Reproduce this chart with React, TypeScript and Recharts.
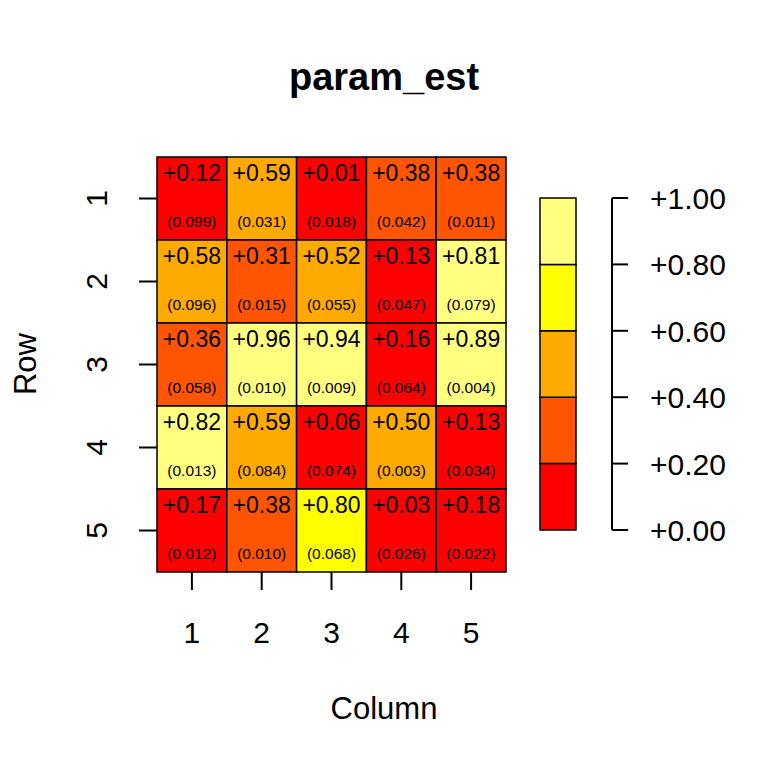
import { ScatterChart, Scatter, XAxis, YAxis, ReferenceArea } from "recharts";

const ROWS = [1, 2, 3, 4, 5];
const COLS = [1, 2, 3, 4, 5];

// estimates per row (row 1 at top); 0.798 prints as +0.80 but sits in the 0.6-0.8 band
const ESTIMATES = [
  [0.12, 0.59, 0.01, 0.38, 0.38],
  [0.58, 0.31, 0.52, 0.13, 0.81],
  [0.36, 0.96, 0.94, 0.16, 0.89],
  [0.82, 0.59, 0.06, 0.5, 0.13],
  [0.17, 0.38, 0.798, 0.03, 0.18],
];

const STD_ERRORS = [
  [0.099, 0.031, 0.018, 0.042, 0.011],
  [0.096, 0.015, 0.055, 0.047, 0.079],
  [0.058, 0.01, 0.009, 0.064, 0.004],
  [0.013, 0.084, 0.074, 0.003, 0.034],
  [0.012, 0.01, 0.068, 0.026, 0.022],
];

const BREAKS = [0, 0.2, 0.4, 0.6, 0.8, 1.0];
const HEAT_COLORS = ["#FF0000", "#FF5500", "#FFAA00", "#FFFF00", "#FFFF80"];

const FONT = '"Liberation Sans", Arial, Helvetica, sans-serif';

const cells = ROWS.flatMap((row, i) =>
  COLS.map((col, j) => ({
    row,
    col,
    est: ESTIMATES[i][j],
    se: STD_ERRORS[i][j],
  }))
);

const segments = HEAT_COLORS.map((color, k) => ({
  lo: BREAKS[k],
  hi: BREAKS[k + 1],
  x: 0.5,
  y: (BREAKS[k] + BREAKS[k + 1]) / 2,
  color,
}));

function colorFor(v: number) {
  for (let k = 0; k < HEAT_COLORS.length; k++) {
    if (v >= BREAKS[k] && v < BREAKS[k + 1]) return HEAT_COLORS[k];
  }
  return HEAT_COLORS[HEAT_COLORS.length - 1];
}

const fmtSigned = (v: number) => (v >= 0 ? "+" : "-") + Math.abs(v).toFixed(2);

function CellText(props: any) {
  const { cx, cy, payload } = props;
  if (cx == null || cy == null) return null;
  return (
    <g>
      <text x={cx} y={cy - 18} textAnchor="middle" fontSize={23} fill="#000">
        {fmtSigned(payload.est)}
      </text>
      <text x={cx} y={cy + 28} textAnchor="middle" fontSize={15.5} fill="#000">
        ({payload.se.toFixed(3)})
      </text>
    </g>
  );
}

function ColTick(props: any) {
  const { x, y, payload } = props;
  return (
    <text x={x} y={y} dy={53} textAnchor="middle" fontSize={30} fill="#000">
      {payload.value}
    </text>
  );
}

function RowTick(props: any) {
  const { x, y, payload } = props;
  const bx = x - 32;
  return (
    <text
      x={bx}
      y={y}
      textAnchor="middle"
      fontSize={30}
      fill="#000"
      transform={`rotate(-90, ${bx}, ${y})`}
    >
      {payload.value}
    </text>
  );
}

function ScaleTick(props: any) {
  const { x, y, payload } = props;
  return (
    <text x={x + 22} y={y + 11} textAnchor="start" fontSize={30} fill="#000">
      {fmtSigned(payload.value)}
    </text>
  );
}

const NoMark = () => null;

export default function App() {
  return (
    <div
      style={{
        position: "absolute",
        left: 0,
        top: 0,
        width: 768,
        height: 768,
        background: "#fff",
        fontFamily: FONT,
      }}
    >
      <div style={{ position: "absolute", left: 0, top: 0 }}>
        <ScatterChart
          width={768}
          height={768}
          margin={{ top: 157, right: 262, bottom: 136, left: 77 }}
        >
          <XAxis
            type="number"
            dataKey="col"
            domain={[0.5, 5.5]}
            ticks={COLS}
            height={60}
            axisLine={false}
            tickLine={{ stroke: "#000", strokeWidth: 2 }}
            tickSize={18}
            tickMargin={0}
            tick={<ColTick />}
            interval={0}
          />
          <YAxis
            type="number"
            dataKey="row"
            domain={[0.5, 5.5]}
            ticks={ROWS}
            reversed
            width={80}
            axisLine={false}
            tickLine={{ stroke: "#000", strokeWidth: 2 }}
            tickSize={18}
            tickMargin={0}
            tick={<RowTick />}
            interval={0}
          />
          {cells.map((c) => (
            <ReferenceArea
              key={`${c.row}-${c.col}`}
              x1={c.col - 0.5}
              x2={c.col + 0.5}
              y1={c.row - 0.5}
              y2={c.row + 0.5}
              fill={colorFor(c.est)}
              fillOpacity={1}
              stroke="#000"
              strokeWidth={1.5}
            />
          ))}
          <Scatter data={cells} shape={<CellText />} isAnimationActive={false} />
        </ScatterChart>
      </div>

      <div style={{ position: "absolute", left: 0, top: 0 }}>
        <ScatterChart
          width={768}
          height={768}
          margin={{ top: 198, right: 56, bottom: 238, left: 540 }}
        >
          <XAxis type="number" dataKey="x" domain={[0, 2]} hide />
          <YAxis
            type="number"
            dataKey="y"
            orientation="right"
            domain={[0, 1]}
            ticks={BREAKS}
            width={100}
            axisLine={{ stroke: "#000", strokeWidth: 2 }}
            tickLine={{ stroke: "#000", strokeWidth: 2 }}
            tickSize={16}
            tickMargin={0}
            tick={<ScaleTick />}
            interval={0}
          />
          {segments.map((s) => (
            <ReferenceArea
              key={s.color}
              x1={0}
              x2={1}
              y1={s.lo}
              y2={s.hi}
              fill={s.color}
              fillOpacity={1}
              stroke="#000"
              strokeWidth={1.5}
            />
          ))}
          <Scatter data={segments} shape={<NoMark />} isAnimationActive={false} />
        </ScatterChart>
      </div>

      <svg
        width={768}
        height={768}
        style={{ position: "absolute", left: 0, top: 0, pointerEvents: "none" }}
      >
        <text
          x={384}
          y={90}
          textAnchor="middle"
          fontSize={38}
          fontWeight="bold"
          fill="#000"
        >
          param_est
        </text>
        <text x={384} y={719} textAnchor="middle" fontSize={31} fill="#000">
          Column
        </text>
        <text
          x={36}
          y={364}
          textAnchor="middle"
          fontSize={31}
          fill="#000"
          transform="rotate(-90, 36, 364)"
        >
          Row
        </text>
      </svg>
    </div>
  );
}
